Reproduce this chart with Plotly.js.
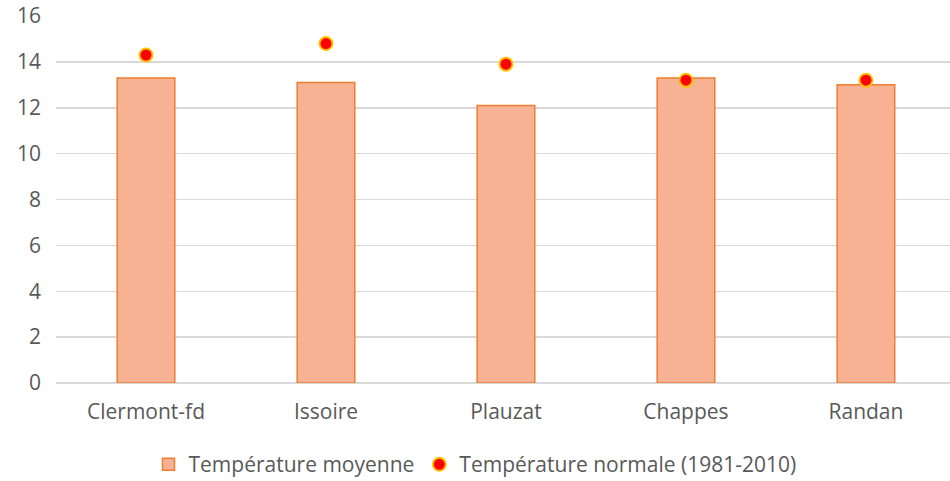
<!DOCTYPE html>
<html>
<head>
<meta charset="utf-8">
<script src="https://cdn.plot.ly/plotly-3.0.1.min.js"></script>
<style>html,body{margin:0;padding:0;background:#fff;}#chart{width:950px;height:481px;}</style>
</head>
<body>
<div id="chart"></div>
<script>
const categories = ["Clermont-fd", "Issoire", "Plauzat", "Chappes", "Randan"];
const tempMoyenne = [13.3, 13.1, 12.1, 13.3, 13.0];
const tempNormale = [14.3, 14.8, 13.9, 13.2, 13.2];
const yTicks = [0, 2, 4, 6, 8, 10, 12, 14, 16];

const font = {family: "'Open Sans', Lato, sans-serif", size: 21, color: "#595959"};

const traces = [
  {
    type: "bar",
    name: "Température moyenne",
    x: categories,
    y: tempMoyenne,
    marker: {color: "#F7B293", line: {color: "#ED7D31", width: 1.5}},
    hoverinfo: "x+y"
  },
  {
    type: "scatter",
    mode: "markers",
    name: "Température normale (1981-2010)",
    x: categories,
    y: tempNormale,
    marker: {color: "#FF0000", size: 13, line: {color: "#FFC000", width: 2}}
  }
];

const layout = {
  width: 950,
  height: 481,
  margin: {l: 56, r: 0, t: 16, b: 98, autoexpand: false},
  paper_bgcolor: "#fff",
  plot_bgcolor: "#fff",
  font: font,
  bargap: 0.68,
  showlegend: true,
  legend: {
    orientation: "h",
    x: 0.5, xanchor: "center",
    xref: "container", yref: "container",
    y: 0.034, yanchor: "middle",
    font: font,
    itemwidth: 30,
    tracegroupgap: 0
  },
  xaxis: {
    type: "category",
    range: [-0.5, 4.467],
    showgrid: false,
    zeroline: false,
    showline: false,
    ticks: "",
    tickfont: font,
    ticklabelstandoff: 14,
    automargin: false
  },
  yaxis: {
    range: [0, 16],
    tickvals: yTicks,
    ticktext: yTicks.map(String),
    showgrid: true,
    gridcolor: "#D9D9D9",
    gridwidth: 1.5,
    zeroline: true,
    zerolinecolor: "#D9D9D9",
    zerolinewidth: 1.5,
    showline: false,
    ticks: "",
    tickfont: font,
    ticklabelstandoff: 14,
    automargin: false
  }
};

Plotly.newPlot("chart", traces, layout, {displayModeBar: false, staticPlot: true});
</script>
</body>
</html>
